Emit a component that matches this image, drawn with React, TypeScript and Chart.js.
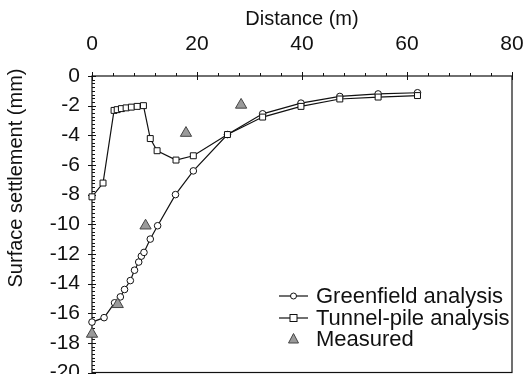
import React, { useEffect, useRef } from "react";
import { Chart, registerables } from "chart.js";

Chart.register(...registerables);

const greenfieldX = [0, 2.3, 4.3, 5.4, 6.2, 7.3, 8.1, 8.9, 9.4, 9.9, 11.1, 12.5, 15.9, 19.3, 25.8, 32.5, 39.8, 47.2, 54.5, 62];
const greenfieldY = [-16.6, -16.3, -15.3, -14.9, -14.4, -13.8, -13.1, -12.55, -12.15, -11.9, -11.0, -10.1, -8.0, -6.4, -3.95, -2.55, -1.83, -1.38, -1.21, -1.13];

const tunnelX = [0, 2.1, 4.2, 4.8, 5.6, 6.5, 7.5, 8.6, 9.8, 11.1, 12.4, 16.0, 19.3, 25.8, 32.5, 39.8, 47.2, 54.5, 62];
const tunnelY = [-8.15, -7.22, -2.32, -2.27, -2.2, -2.15, -2.1, -2.05, -2.0, -4.22, -5.04, -5.67, -5.38, -3.95, -2.77, -2.05, -1.55, -1.42, -1.32];

const measuredX = [0, 4.9, 10.2, 17.9, 28.4];
const measuredY = [-17.4, -15.4, -10.1, -3.85, -1.95];

const xTicks = [0, 20, 40, 60, 80];
const yTicks = [0, -2, -4, -6, -8, -10, -12, -14, -16, -18, -20];

const seriesLabels = ["Greenfield analysis", "Tunnel-pile analysis", "Measured"];
const xTitle = "Distance (m)";
const yTitle = "Surface settlement (mm)";

const FONT = "'Liberation Sans', Arial, Helvetica, sans-serif";

const toPoints = (xs: number[], ys: number[]) => xs.map((x, i) => ({ x, y: ys[i] }));

const zeroPad = () => ({ left: 0, top: 0, right: 0, bottom: 0 });

const axisPlugin = {
  id: "axisDecor",
  beforeDatasetsDraw(chart: any) {
    const { ctx, chartArea } = chart;
    const { left, right, top, bottom } = chartArea;
    const xs = chart.scales.x;
    const ys = chart.scales.y;
    ctx.save();
    ctx.strokeStyle = "#111";
    ctx.lineWidth = 1.2;
    ctx.strokeRect(left, top, right - left, bottom - top);
    ctx.lineWidth = 1;
    ctx.beginPath();
    for (let v = xTicks[0]; v <= xTicks[xTicks.length - 1] + 1e-6; v += 4) {
      const px = Math.round(xs.getPixelForValue(v)) + 0.5;
      const major = Math.abs(v % 20) < 1e-6;
      if (major) {
        ctx.moveTo(px, top - 4);
        ctx.lineTo(px, top + 4);
      } else {
        ctx.moveTo(px, top - 3);
        ctx.lineTo(px, top);
      }
    }
    for (let i = 0; i <= 80; i++) {
      const v = -i * 0.25;
      const py = Math.round(ys.getPixelForValue(v)) + 0.5;
      const major = i % 8 === 0;
      if (major) {
        ctx.moveTo(left - 4, py);
        ctx.lineTo(left + 4, py);
      } else {
        ctx.moveTo(left, py);
        ctx.lineTo(left + 3, py);
      }
    }
    ctx.stroke();
    ctx.translate(16, 178);
    ctx.rotate(-Math.PI / 2);
    ctx.font = `20px ${FONT}`;
    ctx.fillStyle = "#111";
    ctx.textAlign = "center";
    ctx.textBaseline = "middle";
    ctx.fillText(yTitle, 0, 0);
    ctx.restore();
  },
};

const legendPlugin = {
  id: "customLegend",
  afterDatasetsDraw(chart: any) {
    const { ctx } = chart;
    const x0 = 279;
    const x1 = 308;
    const xm = (x0 + x1) / 2;
    const rows = [296, 318, 339];
    ctx.save();
    ctx.font = `22px ${FONT}`;
    ctx.fillStyle = "#111";
    ctx.textBaseline = "middle";
    ctx.textAlign = "left";
    ctx.strokeStyle = "#111";
    ctx.lineWidth = 1.2;
    ctx.beginPath();
    ctx.moveTo(x0, rows[0]);
    ctx.lineTo(x1, rows[0]);
    ctx.stroke();
    ctx.beginPath();
    ctx.arc(xm, rows[0], 3, 0, Math.PI * 2);
    ctx.fillStyle = "#fff";
    ctx.fill();
    ctx.lineWidth = 1;
    ctx.stroke();
    ctx.lineWidth = 1.2;
    ctx.beginPath();
    ctx.moveTo(x0, rows[1]);
    ctx.lineTo(x1, rows[1]);
    ctx.stroke();
    ctx.fillStyle = "#fff";
    ctx.fillRect(xm - 3.5, rows[1] - 3.5, 7, 7);
    ctx.lineWidth = 1;
    ctx.strokeRect(xm - 3.5, rows[1] - 3.5, 7, 7);
    ctx.beginPath();
    ctx.moveTo(xm, rows[2] - 5.5);
    ctx.lineTo(xm + 5, rows[2] + 4);
    ctx.lineTo(xm - 5, rows[2] + 4);
    ctx.closePath();
    ctx.fillStyle = "#9a9a9a";
    ctx.fill();
    ctx.strokeStyle = "#444";
    ctx.stroke();
    ctx.fillStyle = "#111";
    rows.forEach((r, i) => ctx.fillText(seriesLabels[i], 316, r + 1));
    ctx.restore();
  },
};

export default function App() {
  const ref = useRef<HTMLCanvasElement>(null);
  useEffect(() => {
    const canvas = ref.current;
    if (!canvas) return;
    const chart = new Chart(canvas, {
      type: "scatter",
      data: {
        datasets: [
          {
            label: seriesLabels[0],
            data: toPoints(greenfieldX, greenfieldY),
            showLine: true,
            borderColor: "#111",
            borderWidth: 1.2,
            pointStyle: "circle",
            pointRadius: 3.3,
            pointBorderWidth: 1,
            pointBackgroundColor: "#fff",
            pointBorderColor: "#111",
            clip: false,
            order: 3,
          },
          {
            label: seriesLabels[1],
            data: toPoints(tunnelX, tunnelY),
            showLine: true,
            borderColor: "#111",
            borderWidth: 1.2,
            pointStyle: "rect",
            pointRadius: 4.2,
            pointBorderWidth: 1,
            pointBackgroundColor: "#fff",
            pointBorderColor: "#111",
            clip: false,
            order: 2,
          },
          {
            label: seriesLabels[2],
            data: toPoints(measuredX, measuredY),
            showLine: false,
            pointStyle: "triangle",
            pointRadius: 6.5,
            pointBorderWidth: 1,
            pointBackgroundColor: "#9a9a9a",
            pointBorderColor: "#444",
            clip: false,
            order: 1,
          },
        ],
      },
      options: {
        animation: false,
        responsive: false,
        devicePixelRatio: 1,
        layout: { padding: { left: 0, right: 20, top: 0, bottom: 2 } },
        plugins: { legend: { display: false }, tooltip: { enabled: false } },
        scales: {
          x: {
            type: "linear",
            position: "top",
            min: 0,
            max: 80,
            afterBuildTicks: (s: any) => {
              s.ticks = xTicks.map((v) => ({ value: v }));
            },
            afterFit: (s: any) => {
              s.height = 76;
              s.paddingLeft = 0;
              s.paddingRight = 0;
              s.paddingTop = 0;
              s.paddingBottom = 0;
              s.getPadding = zeroPad;
            },
            grid: { display: false, drawTicks: false },
            border: { display: false },
            ticks: { color: "#111", font: { family: FONT, size: 21 }, padding: 19, maxRotation: 0 },
            title: {
              display: true,
              text: xTitle,
              color: "#111",
              font: { family: FONT, size: 20 },
              padding: { top: 7, bottom: 0 },
            },
          },
          y: {
            type: "linear",
            min: -20,
            max: 0,
            afterBuildTicks: (s: any) => {
              s.ticks = yTicks.map((v) => ({ value: v }));
            },
            afterFit: (s: any) => {
              s.width = 92;
              s.paddingLeft = 0;
              s.paddingRight = 0;
              s.paddingTop = 0;
              s.paddingBottom = 0;
              s.getPadding = zeroPad;
            },
            grid: { display: false, drawTicks: false },
            border: { display: false },
            ticks: { color: "#111", font: { family: FONT, size: 21 }, padding: 12 },
            title: { display: false },
          },
        },
      },
      plugins: [axisPlugin, legendPlugin],
    } as any);
    return () => chart.destroy();
  }, []);
  return (
    <div style={{ position: "absolute", left: 0, top: 0, width: 532, height: 374, overflow: "hidden", background: "#fff" }}>
      <canvas ref={ref} width={532} height={380} style={{ display: "block" }} />
    </div>
  );
}
